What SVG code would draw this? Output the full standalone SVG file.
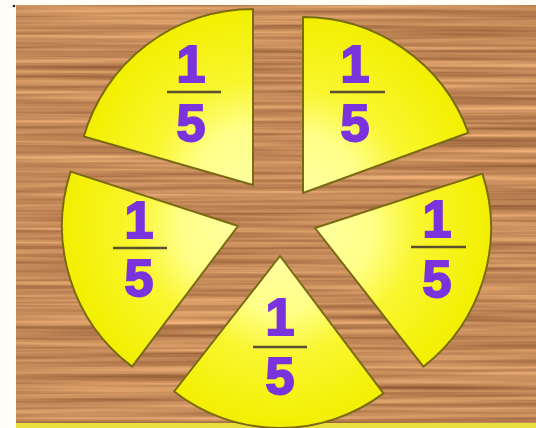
<svg xmlns="http://www.w3.org/2000/svg" xmlns:xlink="http://www.w3.org/1999/xlink" width="536" height="428" viewBox="0 0 536 428">
  <defs>
    <filter id="wood" x="0" y="0" width="100%" height="100%" filterUnits="objectBoundingBox" color-interpolation-filters="sRGB">
      <feTurbulence type="fractalNoise" baseFrequency="0.003 0.2" numOctaves="3" seed="7" result="n"/>
      <feColorMatrix in="n" type="matrix" values="0.5 0 0 0 0.52  0.46 0 0 0 0.31  0.36 0 0 0 0.17  0 0 0 0 1"/>
    </filter>
    <radialGradient id="gBase" gradientUnits="userSpaceOnUse" r="176">
      <stop offset="0" stop-color="#ffffa0"/>
      <stop offset="0.33" stop-color="#ffff88"/>
      <stop offset="0.58" stop-color="#f9f630"/>
      <stop offset="1" stop-color="#f3ef00"/>
    </radialGradient>
    <radialGradient id="gTL" xlink:href="#gBase" href="#gBase" cx="253" cy="185" fx="253" fy="185" r="176"/>
    <radialGradient id="gTR" xlink:href="#gBase" href="#gBase" cx="303" cy="193" fx="303" fy="193" r="176"/>
    <radialGradient id="gR" xlink:href="#gBase" href="#gBase" cx="315" cy="228" fx="315" fy="228" r="176"/>
    <radialGradient id="gB" xlink:href="#gBase" href="#gBase" cx="280" cy="256" fx="280" fy="256" r="172"/>
    <radialGradient id="gL" xlink:href="#gBase" href="#gBase" cx="238" cy="226" fx="238" fy="226" r="176"/>
  </defs>
  <style>
    .slice { stroke: #7a6a14; stroke-width: 2; stroke-linejoin: round; }
    .num { font-family: "Liberation Sans", Arial, sans-serif; font-weight: bold; font-size: 52px; fill: #7a33dd; stroke: #7a33dd; stroke-width: 2; text-anchor: middle; }
    .bar { stroke: #5a5030; stroke-width: 2.5; }
  </style>

  <rect x="0" y="0" width="536" height="428" fill="#fffdf6"/>
  <g id="background">
    <rect x="16" y="5" width="520" height="418" fill="#c08a58" filter="url(#wood)"/>
    <rect x="16" y="423" width="520" height="5" fill="#e6df3c"/>
    <circle cx="14" cy="6" r="1.3" fill="#222"/>
  </g>

  <g id="slice-top-left">
    <path class="slice" fill="url(#gTL)" d="M253,185 L83.8,136.5 A176,176 0 0 1 253,9 Z"/>
    <text class="num" x="191" y="81.5">1</text>
    <line class="bar" x1="167" y1="92" x2="221" y2="92"/>
    <text class="num" x="191" y="141">5</text>
  </g>

  <g id="slice-top-right">
    <path class="slice" fill="url(#gTR)" d="M303,193 L303,17 A176,176 0 0 1 468.4,132.8 Z"/>
    <text class="num" x="355" y="81.5">1</text>
    <line class="bar" x1="330" y1="92" x2="385" y2="92"/>
    <text class="num" x="355" y="141">5</text>
  </g>

  <g id="slice-right">
    <path class="slice" fill="url(#gR)" d="M315,228 L482.4,173.6 A176,176 0 0 1 423.4,366.7 Z"/>
    <text class="num" x="437" y="237">1</text>
    <line class="bar" x1="411" y1="247" x2="466" y2="247"/>
    <text class="num" x="437" y="297">5</text>
  </g>

  <g id="slice-bottom">
    <path class="slice" fill="url(#gB)" d="M280,256 L383.5,393.4 A172,172 0 0 1 174.1,391.5 Z"/>
    <text class="num" x="280" y="335">1</text>
    <line class="bar" x1="253" y1="347" x2="307" y2="347"/>
    <text class="num" x="280" y="394">5</text>
  </g>

  <g id="slice-left">
    <path class="slice" fill="url(#gL)" d="M238,226 L132.1,366.6 A176,176 0 0 1 70.6,171.6 Z"/>
    <text class="num" x="139" y="238">1</text>
    <line class="bar" x1="113" y1="248" x2="167" y2="248"/>
    <text class="num" x="139" y="296">5</text>
  </g>
</svg>
